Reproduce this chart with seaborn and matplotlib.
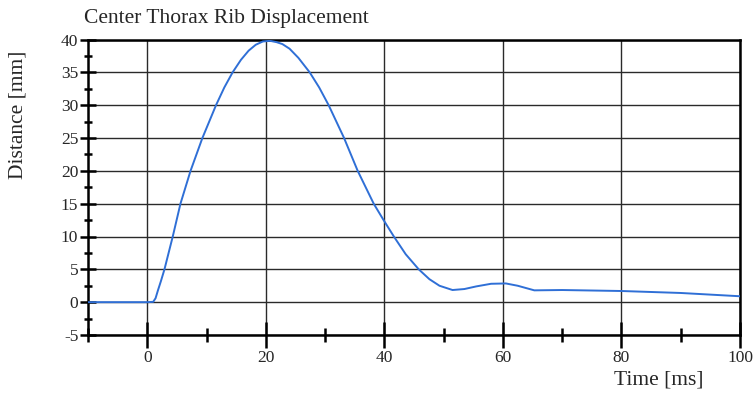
import matplotlib
matplotlib.use("Agg")
import matplotlib.pyplot as plt
import seaborn as sns
import pandas as pd
from matplotlib.ticker import MultipleLocator

time_ms = [-10, 0, 1.0, 1.4, 1.8, 2.3, 2.9, 4.3, 5.6, 7.3, 9.3, 11.6, 13.0, 14.4, 15.8,
           17.1, 18.3, 19.5, 20.7, 21.8, 22.8, 24.0, 25.5, 27.4, 29.0, 30.6, 33.2,
           35.5, 38.2, 39.8, 41.6, 43.6, 45.8, 47.6, 49.3, 51.5, 53.5, 55.5, 58.0,
           60.5, 62.5, 65.3, 70.0, 80.0, 90.0, 100.0]
distance_mm = [0, 0, 0.05, 0.6, 1.8, 3.2, 5.0, 10.0, 15.0, 20.0, 25.0, 30.0, 32.7, 35.0, 36.9,
               38.3, 39.2, 39.7, 39.8, 39.6, 39.3, 38.6, 37.2, 35.0, 32.7, 30.0, 25.0,
               20.0, 15.0, 12.6, 10.0, 7.3, 5.0, 3.5, 2.5, 1.85, 2.0, 2.4, 2.8,
               2.85, 2.5, 1.8, 1.85, 1.7, 1.4, 0.9]

title = "Center Thorax Rib Displacement"
xlabel = "Time [ms]"
ylabel = "Distance [mm]"

sns.set_style("white")
plt.rcParams["font.family"] = ["Liberation Serif", "DejaVu Serif"]
plt.rcParams["axes.unicode_minus"] = False

df = pd.DataFrame({"t": time_ms, "d": distance_mm})

fig = plt.figure(figsize=(7.55, 3.94), dpi=100)
ax = fig.add_axes([88 / 755, 1 - 335 / 394, (740 - 88) / 755, (335 - 39.5) / 394])

sns.lineplot(data=df, x="t", y="d", ax=ax, color="#2f6fd6", linewidth=1.4, zorder=3)

ax.set_xlim(-10, 100)
ax.set_ylim(-5, 40)
ax.xaxis.set_major_locator(MultipleLocator(20))
ax.xaxis.set_minor_locator(MultipleLocator(10))
ax.yaxis.set_major_locator(MultipleLocator(5))
ax.yaxis.set_minor_locator(MultipleLocator(2.5))

ax.grid(True, which="major", color="#2a2a2a", linewidth=1.0)
ax.set_axisbelow(True)

for s in ax.spines.values():
    s.set_visible(True)
    s.set_color("black")
    s.set_linewidth(1.8)

ax.tick_params(axis="x", which="major", direction="inout", length=19, width=1.8,
               labelsize=12.5, pad=1, color="black", bottom=True)
ax.tick_params(axis="x", which="minor", direction="inout", length=10, width=1.8,
               color="black", bottom=True)
ax.tick_params(axis="y", which="major", direction="inout", length=12, width=1.8,
               labelsize=12.5, pad=1, color="black", left=True)
ax.tick_params(axis="y", which="minor", direction="inout", length=6, width=1.8,
               color="black", left=True)

ax.set_xlabel("")
ax.set_ylabel("")

fig.text(84 / 755, 1 - 18 / 394, title, fontsize=15.5, ha="left", va="center")
fig.text(18 / 755, 1 - 115 / 394, ylabel, fontsize=15.5, rotation=90, ha="center", va="center")
fig.text(703 / 755, 1 - 380 / 394, xlabel, fontsize=15.5, ha="right", va="center")

fig.savefig("out.png", dpi=100)
